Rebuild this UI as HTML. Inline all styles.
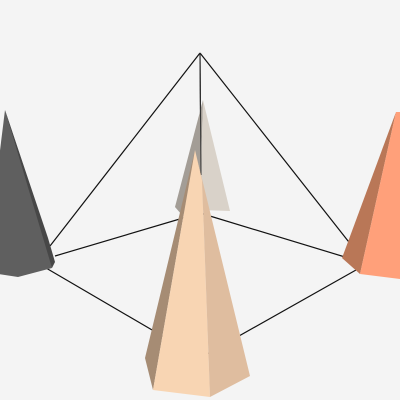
<!DOCTYPE html>
<html><head><meta charset="utf-8"><style>html,body{margin:0;padding:0;background:#f4f4f4}svg{display:block}</style></head>
<body>
<svg width="400" height="400" viewBox="0 0 400 400">
<rect width="400" height="400" fill="#f4f4f4"/>
<g stroke="#111" stroke-width="1.2" fill="none">
<line x1="200" y1="53" x2="50" y2="246"/>
<line x1="200" y1="53" x2="352" y2="246"/>
<line x1="200" y1="53" x2="201" y2="175"/>
<line x1="55" y1="256" x2="200" y2="213"/>
<line x1="200" y1="213" x2="345" y2="257"/>
<line x1="46" y1="268" x2="200" y2="358"/>
<line x1="356" y1="270" x2="200" y2="358"/>
</g>
<g>
<polygon points="203,100 175,207 182,215 200,210" fill="#a39d96"/>
<polygon points="203,100 200,210 230,211" fill="#d9d2c9"/>
<line x1="200" y1="53" x2="201" y2="175" stroke="#333" stroke-width="1"/>
</g>
<g>
<polygon points="5,110 -15,272 18,277 52,268 48,240" fill="#5f5f5f"/>
<polygon points="5,110 48,238 55,262 52,268" fill="#474747"/>
</g>
<g>
<polygon points="396,112 342,258 360,274" fill="#b97757"/>
<polygon points="396,112 360,274 400,279 400,112" fill="#ffa07a"/>
</g>
<g>
<polygon points="195,150 145,358 153,390" fill="#a68c74"/>
<polygon points="195,150 153,390 210,397 202,180" fill="#f8d5b3"/>
<polygon points="195,150 202,180 210,397 250,376" fill="#dfbd9f"/>
</g>
</svg>
</body></html>
